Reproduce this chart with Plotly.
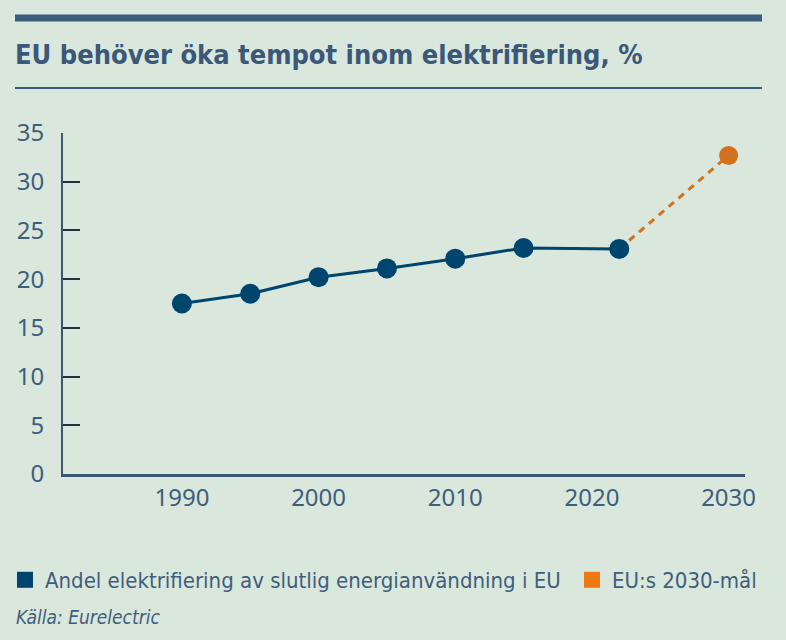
import plotly.graph_objects as go

# Andel elektrifiering av slutlig energianvändning i EU, %
years = [1990, 1995, 2000, 2005, 2010, 2015, 2022]
share = [17.5, 18.5, 20.2, 21.1, 22.1, 23.2, 23.1]

# EU:s 2030-mål
target_years = [2022, 2030]
target_share = [23.1, 32.7]

x_ticks = [1990, 2000, 2010, 2020, 2030]
y_ticks = [0, 5, 10, 15, 20, 25, 30, 35]

NAVY = "#00456e"
ORANGE = "#d4711e"
ORANGE_LEGEND = "#ec7a10"
TEXT = "#3f5e7b"
BG = "#dae7dd"
COND = "Liberation Sans Narrow, DejaVu Sans Condensed"

W, H = 786, 640
L, R, T, B = 63, 41, 133, 166
pw, ph = W - L - R, H - T - B


def px_x(p):
    return (p - L) / pw


def px_y(p):
    return (H - B - p) / ph


fig = go.Figure()

fig.add_trace(go.Scatter(x=target_years, y=target_share, mode="lines",
                         line=dict(color=ORANGE, width=3, dash="7px,6px"),
                         showlegend=False, hoverinfo="skip"))
fig.add_trace(go.Scatter(x=target_years[1:], y=target_share[1:], mode="markers",
                         marker=dict(color=ORANGE, size=19), showlegend=False))
fig.add_trace(go.Scatter(x=years, y=share, mode="lines+markers",
                         line=dict(color=NAVY, width=3),
                         marker=dict(color=NAVY, size=20), showlegend=False))

# legend entries
fig.add_trace(go.Scatter(x=[None], y=[None], mode="markers",
                         marker=dict(symbol="square", size=21, color=NAVY),
                         name="Andel elektrifiering av slutlig energianvändning i EU",
                         legend="legend"))
fig.add_trace(go.Scatter(x=[None], y=[None], mode="markers",
                         marker=dict(symbol="square", size=21, color=ORANGE_LEGEND),
                         name="EU:s 2030-mål", legend="legend2"))

fig.update_xaxes(range=[1981.3, 2031.2], tickvals=x_ticks, ticks="",
                 showgrid=False, zeroline=False, automargin=False,
                 showline=True, linecolor="#3b5670", linewidth=3,
                 tickfont=dict(family="Noto Sans", size=24, color=TEXT))
fig.update_yaxes(range=[0, 35], tickvals=y_ticks, ticks="inside", ticklen=17,
                 tickwidth=1.5, tickcolor="#2a2f33", showgrid=False, zeroline=False,
                 showline=True, linecolor="#3b5670", linewidth=2, automargin=False,
                 ticklabelstandoff=12,
                 tickfont=dict(family="Noto Sans", size=24, color=TEXT))

fig.add_shape(type="line", xref="paper", yref="paper",
              x0=px_x(15), x1=px_x(762), y0=px_y(18), y1=px_y(18),
              line=dict(color="#3b5b7b", width=7))
fig.add_shape(type="line", xref="paper", yref="paper",
              x0=px_x(15), x1=px_x(762), y0=px_y(88), y1=px_y(88),
              line=dict(color="#3b5b7b", width=2))

fig.add_annotation(text="<i>Källa: Eurelectric</i>", xref="paper", yref="paper",
                   x=px_x(14), y=px_y(617), xanchor="left", yanchor="middle",
                   showarrow=False, font=dict(family=COND, size=19, color=TEXT))

legend_style = dict(orientation="h", xanchor="left", yanchor="middle",
                    bgcolor="rgba(0,0,0,0)", itemclick=False, itemdoubleclick=False,
                    font=dict(family=COND, size=22, color=TEXT))

fig.update_layout(
    width=W, height=H,
    margin=dict(l=L, r=R, t=T, b=B, autoexpand=False),
    paper_bgcolor=BG, plot_bgcolor=BG,
    title=dict(text="<b>EU behöver öka tempot inom elektrifiering, %</b>",
               xref="container", x=15 / W, xanchor="left",
               yref="container", y=1 - 55 / H, yanchor="middle",
               font=dict(family=COND, size=27, color="#3b5878")),
    legend=dict(legend_style, x=px_x(5), y=px_y(580)),
    legend2=dict(legend_style, x=px_x(572), y=px_y(580)),
)

fig.write_html("out.html", config={"displayModeBar": False},
               post_script="document.body.style.margin='0';")
